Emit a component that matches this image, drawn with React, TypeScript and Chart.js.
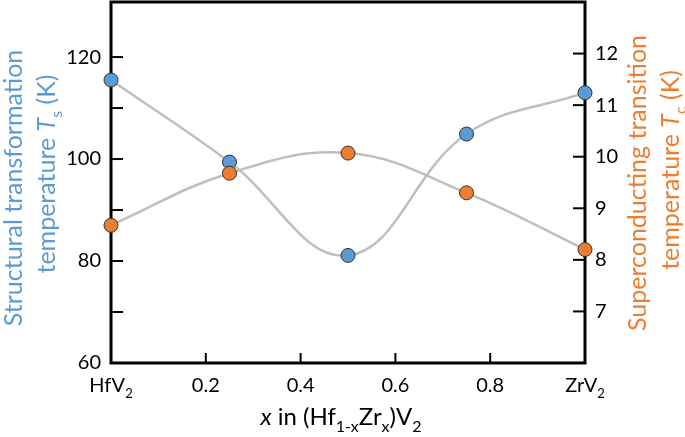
import React, { useEffect, useRef } from 'react';
import { Chart, registerables } from 'chart.js';

Chart.register(...registerables);

// ---- data ----
const compositions = [0, 0.25, 0.5, 0.75, 1];
const tsValues = [115.5, 99.4, 81.1, 104.9, 113.0];
const tcValues = [8.67, 9.68, 10.07, 9.3, 8.2];
const xTickValues = [0, 0.2, 0.4, 0.6, 0.8, 1];
const xTickLabels = ['HfV_2', '0.2', '0.4', '0.6', '0.8', 'ZrV_2'];
const leftTickValues = [60, 70, 80, 90, 100, 110, 120];
const leftLabelValues = [60, 80, 100, 120];
const rightTickValues = [7, 8, 9, 10, 11, 12];

const FONT = 'Lato';
const BLUE = '#5b9bd5';
const ORANGE = '#ed7d31';

type Seg = { t: string; i?: boolean; sub?: boolean };

function parseLabel(s: string): Seg[] {
  const parts = s.split('_');
  const out: Seg[] = [{ t: parts[0] }];
  if (parts[1]) out.push({ t: parts[1], sub: true });
  return out;
}

function drawRich(ctx: CanvasRenderingContext2D, segs: Seg[], cx: number, baseline: number, size: number, color: string) {
  const fontFor = (s: Seg) => `${s.i ? 'italic ' : ''}${s.sub ? Math.round(size * 0.65) : size}px ${FONT}`;
  let w = 0;
  for (const s of segs) {
    ctx.font = fontFor(s);
    w += ctx.measureText(s.t).width;
  }
  let x = cx - w / 2;
  ctx.fillStyle = color;
  ctx.textAlign = 'left';
  ctx.textBaseline = 'alphabetic';
  for (const s of segs) {
    ctx.font = fontFor(s);
    ctx.fillText(s.t, x, baseline + (s.sub ? size * 0.28 : 0));
    x += ctx.measureText(s.t).width;
  }
}

function drawRotated(ctx: CanvasRenderingContext2D, segs: Seg[], cx: number, cy: number, size: number, color: string) {
  ctx.save();
  ctx.translate(cx, cy);
  ctx.rotate(-Math.PI / 2);
  drawRich(ctx, segs, 0, size * 0.36, size, color);
  ctx.restore();
}

const framePlugin = {
  id: 'frame',
  beforeDatasetsDraw(chart: any) {
    const { ctx, chartArea } = chart;
    const { left, right, top, bottom } = chartArea;
    const sx = chart.scales.x;
    const yl = chart.scales.yL;
    const yr = chart.scales.yR;
    ctx.save();
    ctx.strokeStyle = '#000';
    ctx.lineWidth = 2;
    for (const v of leftTickValues) {
      const y = yl.getPixelForValue(v);
      ctx.beginPath();
      ctx.moveTo(left, y);
      ctx.lineTo(left + 12, y);
      ctx.stroke();
    }
    for (const v of rightTickValues) {
      const y = yr.getPixelForValue(v);
      ctx.beginPath();
      ctx.moveTo(right - 12, y);
      ctx.lineTo(right, y);
      ctx.stroke();
    }
    for (const v of xTickValues) {
      const x = sx.getPixelForValue(v);
      ctx.beginPath();
      ctx.moveTo(x, bottom - 10);
      ctx.lineTo(x, bottom);
      ctx.stroke();
    }
    ctx.lineWidth = 3;
    ctx.strokeRect(left, top, right - left, bottom - top);
    ctx.restore();
  },
  afterDraw(chart: any) {
    const { ctx } = chart;
    const sx = chart.scales.x;
    ctx.save();
    xTickValues.forEach((v, i) => {
      drawRich(ctx, parseLabel(xTickLabels[i]), sx.getPixelForValue(v), 392, 20, '#000');
    });
    drawRich(
      ctx,
      [{ t: 'x', i: true }, { t: ' in (Hf' }, { t: '1-x', sub: true }, { t: 'Zr' }, { t: 'x', sub: true }, { t: ')V' }, { t: '2', sub: true }],
      341, 425, 24, '#000'
    );
    drawRotated(ctx, [{ t: 'Structural transformation' }], 13, 188, 25, BLUE);
    drawRotated(ctx, [{ t: 'temperature ' }, { t: 'T', i: true }, { t: 's', sub: true }, { t: ' (K)' }], 46, 174, 25, BLUE);
    drawRotated(ctx, [{ t: 'Superconducting transition' }], 637, 183, 25, ORANGE);
    drawRotated(ctx, [{ t: 'temperature ' }, { t: 'T', i: true }, { t: 'c', sub: true }, { t: ' (K)' }], 670, 170, 25, ORANGE);
    ctx.restore();
  },
};

export default function App() {
  const ref = useRef<HTMLCanvasElement>(null);
  useEffect(() => {
    if (!ref.current) return;
    const ts = compositions.map((x, i) => ({ x, y: tsValues[i] }));
    const tc = compositions.map((x, i) => ({ x, y: tcValues[i] }));
    const lineStyle = { borderColor: '#bfbfbf', borderWidth: 2.5, pointRadius: 0, tension: 0.4, fill: false };
    const pointStyle = { showLine: false, pointRadius: 7, pointBorderColor: '#333', pointBorderWidth: 1, clip: false as any };
    const chart = new Chart(ref.current, {
      type: 'line',
      data: {
        datasets: [
          { data: ts, yAxisID: 'yL', order: 4, ...lineStyle } as any,
          { data: tc, yAxisID: 'yR', order: 3, ...lineStyle } as any,
          { data: ts, yAxisID: 'yL', order: 2, pointBackgroundColor: BLUE, ...pointStyle } as any,
          { data: tc, yAxisID: 'yR', order: 1, pointBackgroundColor: ORANGE, ...pointStyle } as any,
        ],
      },
      options: {
        animation: false,
        responsive: false,
        layout: { autoPadding: false, padding: { top: 2, left: 0, right: 0, bottom: 0 } },
        plugins: { legend: { display: false }, tooltip: { enabled: false } },
        scales: {
          x: {
            type: 'linear',
            position: 'bottom',
            min: 0,
            max: 1,
            grid: { display: false, drawTicks: false },
            border: { display: false },
            ticks: { display: false },
            afterBuildTicks: (s: any) => { s.ticks = xTickValues.map((v) => ({ value: v })); },
            afterFit: (s: any) => { s.height = 74; s.paddingLeft = 0; s.paddingRight = 0; },
          },
          yL: {
            type: 'linear',
            position: 'left',
            min: 60,
            max: 130.8,
            grid: { display: false, drawTicks: false },
            border: { display: false },
            afterBuildTicks: (s: any) => { s.ticks = leftTickValues.map((v) => ({ value: v })); },
            ticks: {
              padding: 10,
              color: '#000',
              font: { family: FONT, size: 20 },
              callback: (v: any) => (leftLabelValues.includes(Number(v)) ? String(v) : ''),
            },
            afterFit: (s: any) => { s.width = 111; s.paddingTop = 0; s.paddingBottom = 0; },
          },
          yR: {
            type: 'linear',
            position: 'right',
            min: 6,
            max: 13,
            grid: { display: false, drawTicks: false },
            border: { display: false },
            afterBuildTicks: (s: any) => { s.ticks = rightTickValues.map((v) => ({ value: v })); },
            ticks: {
              padding: 10,
              color: '#000',
              font: { family: FONT, size: 20 },
              callback: (v: any) => String(v),
            },
            afterFit: (s: any) => { s.width = 100; s.paddingTop = 0; s.paddingBottom = 0; },
          },
        },
      } as any,
      plugins: [framePlugin],
    });
    return () => chart.destroy();
  }, []);
  return (
    <div style={{ position: 'fixed', left: 0, top: 0, width: 685, height: 437, background: '#fff' }}>
      <canvas ref={ref} width={685} height={437} style={{ width: 685, height: 437 }} />
    </div>
  );
}
